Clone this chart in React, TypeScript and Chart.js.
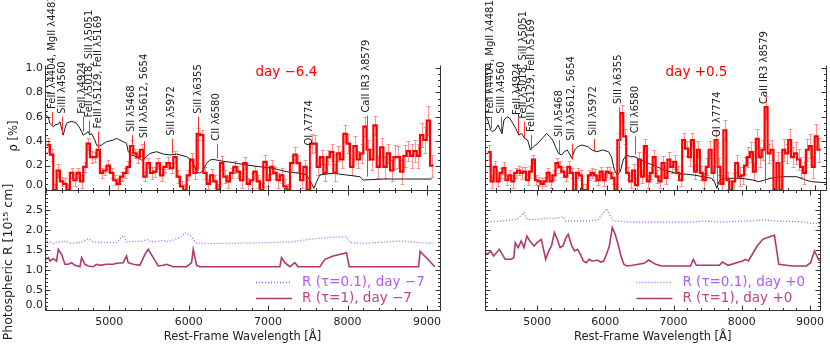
import React, { useEffect, useRef } from 'react';
import { Chart, registerables } from 'chart.js';

Chart.register(...registerables);

// ---------------- data ----------------
const xRangeL = [4190, 9165];
const xRangeR = [4235, 9155];
const polTicks = [0, 0.2, 0.4, 0.6, 0.8, 1.0];
const radTicks = [0, 0.5, 1.0, 1.5, 2.0, 2.5];
const waveTicks = [5000, 6000, 7000, 8000, 9000];

// binned polarization, day -6.4
const binStartL = 4231;
const binWidthL = 42;
const polL = [
  0.37, 0.29, 0.0, 0.16, 0.07, 0.05, 0.0, 0.14, 0.08, 0.14,
  0.07, 0.19, 0.38, 0.27, 0.27, 0.33, 0.14, 0.16, 0.2, 0.14,
  0.08, 0.05, 0.11, 0.14, 0.19, 0.36, 0.3, 0.27, 0.33, 0.11,
  0.22, 0.14, 0.15, 0.22, 0.12, 0.19, 0.22, 0.18, 0.27, 0.11,
  0.03, 0.0, 0.12, 0.25, 0.14, 0.46, 0.45, 0.14, 0.05, 0.12,
  0.07, 0.0, 0.22, 0.11, 0.07, 0.14, 0.19, 0.15, 0.08, 0.22,
  0.05, 0.08, 0.15, 0.07, 0.0, 0.23, 0.08, 0.19, 0.14, 0.08,
  0.12, 0.03, 0.0, 0.22, 0.29, 0.22, 0.08, 0.19, 0.0, 0.38,
  0.38, 0.19, 0.27, 0.14, 0.27, 0.31, 0.14, 0.3, 0.25, 0.46,
  0.38, 0.19, 0.36, 0.25, 0.3, 0.52, 0.33, 0.25, 0.53, 0.19,
  0.35, 0.19, 0.3, 0.16, 0.27, 0.27, 0.15, 0.28, 0.32, 0.28,
  0.32, 0.28, 0.45, 0.41, 0.57, 0.2,
];
const polErrL = [
  0.06, 0.05, 0.05, 0.05, 0.04, 0.05, 0.05, 0.04, 0.05, 0.04,
  0.05, 0.04, 0.05, 0.05, 0.04, 0.05, 0.04, 0.04, 0.05, 0.04,
  0.04, 0.05, 0.04, 0.04, 0.05, 0.05, 0.04, 0.05, 0.05, 0.04,
  0.04, 0.05, 0.04, 0.04, 0.05, 0.04, 0.05, 0.04, 0.05, 0.05,
  0.04, 0.05, 0.04, 0.05, 0.05, 0.05, 0.04, 0.05, 0.04, 0.05,
  0.05, 0.05, 0.06, 0.05, 0.05, 0.04, 0.05, 0.05, 0.06, 0.05,
  0.05, 0.06, 0.05, 0.05, 0.06, 0.06, 0.05, 0.06, 0.05, 0.06,
  0.06, 0.06, 0.05, 0.06, 0.06, 0.07, 0.06, 0.06, 0.07, 0.08,
  0.07, 0.07, 0.06, 0.07, 0.06, 0.07, 0.07, 0.06, 0.07, 0.07,
  0.08, 0.07, 0.08, 0.07, 0.08, 0.08, 0.08, 0.09, 0.08, 0.09,
  0.08, 0.09, 0.08, 0.09, 0.1, 0.09, 0.1, 0.09, 0.08, 0.1,
  0.09, 0.1, 0.1, 0.11, 0.12, 0.09,
];

// binned polarization, day +0.5
const binStartR = 4296;
const binWidthR = 42.5;
const polR = [
  0.31, 0.07, 0.19, 0.07, 0.14, 0.18, 0.08, 0.12, 0.07, 0.14,
  0.16, 0.14, 0.15, 0.08, 0.15, 0.25, 0.08, 0.07, 0.05, 0.07,
  0.14, 0.07, 0.12, 0.22, 0.19, 0.15, 0.11, 0.19, 0.14, 0.0,
  0.14, 0.12, 0.0, 0.0, 0.12, 0.14, 0.12, 0.08, 0.15, 0.08,
  0.15, 0.14, 0.1, 0.0, 0.41, 0.63, 0.44, 0.14, 0.07, 0.16,
  0.04, 0.25, 0.11, 0.36, 0.07, 0.14, 0.27, 0.11, 0.07, 0.22,
  0.1, 0.25, 0.19, 0.23, 0.14, 0.08, 0.41, 0.34, 0.27, 0.41,
  0.15, 0.33, 0.14, 0.08, 0.19, 0.33, 0.14, 0.41, 0.19, 0.05,
  0.49, 0.08, 0.0, 0.07, 0.22, 0.11, 0.12, 0.2, 0.27, 0.31,
  0.15, 0.42, 0.27, 0.33, 0.68, 0.3, 0.33, 0.0, 0.22, 0.0,
  0.33, 0.3, 0.41, 0.27, 0.3, 0.25, 0.19, 0.14, 0.33, 0.36,
  0.19, 0.44, 0.33,
];
const polErrR = [
  0.06, 0.05, 0.05, 0.04, 0.04, 0.05, 0.04, 0.04, 0.05, 0.04,
  0.04, 0.05, 0.04, 0.04, 0.05, 0.04, 0.04, 0.04, 0.05, 0.04,
  0.04, 0.05, 0.04, 0.04, 0.05, 0.04, 0.04, 0.05, 0.04, 0.05,
  0.04, 0.04, 0.05, 0.05, 0.04, 0.04, 0.05, 0.04, 0.04, 0.05,
  0.04, 0.05, 0.05, 0.05, 0.06, 0.07, 0.06, 0.05, 0.05, 0.05,
  0.05, 0.06, 0.05, 0.06, 0.05, 0.05, 0.06, 0.05, 0.05, 0.06,
  0.05, 0.06, 0.05, 0.06, 0.06, 0.05, 0.06, 0.06, 0.07, 0.06,
  0.06, 0.07, 0.06, 0.06, 0.07, 0.07, 0.06, 0.07, 0.07, 0.07,
  0.08, 0.07, 0.07, 0.07, 0.07, 0.08, 0.07, 0.07, 0.08, 0.08,
  0.07, 0.08, 0.08, 0.08, 0.09, 0.08, 0.08, 0.08, 0.09, 0.08,
  0.09, 0.08, 0.09, 0.08, 0.09, 0.09, 0.08, 0.09, 0.09, 0.1,
  0.09, 0.1, 0.1,
];

// scaled flux spectra (black)
const fluxWaveL = [
  4197, 4231, 4252, 4294, 4315, 4357, 4378, 4399, 4420, 4441,
  4462, 4504, 4546, 4588, 4630, 4651, 4672, 4705, 4734, 4755,
  4776, 4818, 4839, 4860, 4902, 4965, 5049, 5091, 5133, 5175,
  5217, 5238, 5280, 5343, 5406, 5427, 5469, 5511, 5595, 5679,
  5763, 5847, 5973, 6036, 6078, 6099, 6141, 6183, 6225, 6267,
  6309, 6393, 6561, 6729, 6896, 7064, 7232, 7400, 7484, 7547,
  7577, 7610, 7652, 7736, 7820, 7988, 8156, 8198, 8450, 8660,
  8911, 9060,
];
const fluxL = [
  0.615, 0.6, 0.546, 0.519, 0.533, 0.541, 0.56, 0.505, 0.45, 0.505,
  0.546, 0.56, 0.56, 0.546, 0.505, 0.478, 0.45, 0.464, 0.478, 0.45,
  0.464, 0.41, 0.369, 0.355, 0.369, 0.396, 0.41, 0.423, 0.41, 0.396,
  0.383, 0.314, 0.287, 0.273, 0.246, 0.246, 0.273, 0.3, 0.314, 0.295,
  0.287, 0.295, 0.273, 0.246, 0.191, 0.15, 0.137, 0.164, 0.219, 0.246,
  0.251, 0.24, 0.224, 0.205, 0.191, 0.178, 0.15, 0.137, 0.123, 0.055,
  0.014, 0.068, 0.123, 0.131, 0.137, 0.123, 0.109, 0.082, 0.09, 0.09,
  0.09, 0.09,
];
const fluxWaveR = [
  4233, 4276, 4318, 4339, 4382, 4424, 4467, 4480, 4509, 4552,
  4594, 4637, 4679, 4722, 4764, 4807, 4849, 4892, 4934, 4998,
  5083, 5125, 5168, 5210, 5253, 5295, 5337, 5380, 5422, 5465,
  5486, 5529, 5571, 5635, 5720, 5783, 5847, 5932, 6017, 6059,
  6102, 6144, 6187, 6229, 6272, 6336, 6399, 6484, 6654, 6824,
  6994, 7249, 7503, 7546, 7580, 7610, 7673, 7928, 8098, 8183,
  8268, 8353, 8523, 8735, 8862, 8948, 9155,
];
const fluxR = [
  0.615, 0.574, 0.49, 0.48, 0.492, 0.533, 0.478, 0.464, 0.574, 0.6,
  0.587, 0.546, 0.505, 0.45, 0.464, 0.423, 0.41, 0.328, 0.355, 0.383,
  0.437, 0.464, 0.437, 0.41, 0.355, 0.3, 0.287, 0.314, 0.328, 0.287,
  0.26, 0.328, 0.355, 0.369, 0.355, 0.328, 0.314, 0.328, 0.314, 0.273,
  0.164, 0.123, 0.15, 0.246, 0.287, 0.273, 0.273, 0.246, 0.205, 0.164,
  0.137, 0.123, 0.096, 0.068, 0.014, 0.068, 0.096, 0.096, 0.082, 0.068,
  0.082, 0.096, 0.109, 0.109, 0.082, 0.068, 0.06,
];

// photospheric radius, day -7
const radWave01L = [
  4197, 4210, 4294, 4462, 4504, 4630, 4734, 4797, 5091, 5175,
  5217, 5427, 5469, 5532, 5637, 5679, 5721, 5889, 5952, 6015,
  6099, 6561, 6980, 7274, 7526, 7736, 7988, 8030, 8240, 8660,
  8911, 9100,
];
const rad01L = [
  1.667, 1.725, 1.667, 1.725, 1.667, 1.683, 1.783, 1.7, 1.683, 1.867,
  1.7, 1.725, 1.767, 1.7, 1.725, 1.742, 1.7, 1.808, 1.933, 1.867,
  1.667, 1.667, 1.683, 1.7, 1.767, 1.808, 1.833, 1.683, 1.667, 1.725,
  1.683, 1.67,
];
const radWave1L = [
  4197, 4231, 4252, 4294, 4336, 4357, 4399, 4441, 4483, 4525,
  4567, 4630, 4651, 4693, 4734, 4797, 4839, 4881, 4965, 5049,
  5091, 5175, 5217, 5238, 5301, 5385, 5448, 5490, 5553, 5616,
  5679, 5721, 5805, 5973, 6036, 6057, 6099, 6141, 6561, 7148,
  7169, 7211, 7274, 7337, 7379, 7652, 7715, 7820, 7988, 8021,
  8660, 8895, 8915, 9100,
];
const rad1L = [
  1.267, 1.308, 1.225, 1.283, 1.225, 1.517, 1.392, 1.142, 1.142, 1.183,
  1.117, 1.083, 1.308, 1.142, 1.1, 1.083, 1.142, 1.117, 1.142, 1.142,
  1.167, 1.183, 1.35, 1.183, 1.142, 1.117, 1.392, 1.517, 1.308, 1.1,
  1.117, 1.142, 1.083, 1.083, 1.183, 1.517, 1.117, 1.083, 1.083, 1.083,
  1.308, 1.183, 1.083, 1.183, 1.083, 1.083, 1.267, 1.35, 1.433, 1.083,
  1.083, 1.083, 1.47, 1.083,
];

// photospheric radius, day +0
const radWave01R = [
  4233, 4276, 4488, 4700, 4807, 4849, 5040, 5168, 5253, 5380,
  5422, 5720, 5890, 5975, 6017, 6059, 6123, 6399, 6824, 7249,
  7461, 7673, 8098, 8310, 8523, 8948, 8990, 9155,
];
const rad01R = [
  2.2, 2.2, 2.225, 2.267, 2.433, 2.267, 2.267, 2.308, 2.283, 2.333,
  2.225, 2.225, 2.25, 2.433, 2.533, 2.392, 2.225, 2.2, 2.2, 2.2,
  2.225, 2.2, 2.225, 2.25, 2.225, 2.2, 2.167, 2.167,
];
const radWave1R = [
  4233, 4276, 4318, 4361, 4403, 4446, 4488, 4531, 4573, 4615,
  4658, 4679, 4722, 4764, 4807, 4849, 4892, 4955, 4998, 5061,
  5104, 5125, 5168, 5210, 5253, 5295, 5337, 5380, 5422, 5456,
  5507, 5550, 5592, 5635, 5677, 5720, 5762, 5805, 5890, 5932,
  5975, 6017, 6059, 6102, 6144, 6187, 6229, 6272, 6314, 6399,
  6569, 6633, 6739, 6824, 7249, 7291, 7334, 7673, 7716, 7801,
  7928, 8013, 8055, 8098, 8141, 8226, 8310, 8438, 8480, 8544,
  8735, 8948, 9011, 9066, 9139,
];
const rad1R = [
  1.433, 1.392, 1.475, 1.35, 1.433, 1.517, 1.392, 1.267, 1.267, 1.267,
  1.308, 1.683, 1.558, 1.725, 1.558, 1.85, 1.725, 1.6, 1.683, 1.767,
  1.433, 1.267, 1.475, 1.6, 1.933, 1.767, 1.558, 1.6, 1.808, 1.892,
  1.6, 1.475, 1.517, 1.392, 1.225, 1.183, 1.267, 1.225, 1.242, 1.2,
  1.225, 1.392, 1.6, 2.058, 1.892, 1.642, 1.35, 1.142, 1.1, 1.117,
  1.167, 1.25, 1.142, 1.1, 1.1, 1.267, 1.117, 1.117, 1.2, 1.117,
  1.183, 1.225, 1.267, 1.225, 1.35, 1.6, 1.767, 1.85, 1.867, 1.142,
  1.1, 1.1, 1.183, 1.475, 1.225,
];

// line identifications
const lineLabels = [
  'FeII λ4404, MgII λ4481', 'SiIII λ4560', 'FeII λ4924', 'FeII λ5018, SiII λ5051',
  'FeIII λ5129, FeII λ5169', 'SII λ5468', 'SII λλ5612, 5654', 'SiII λ5972',
  'SiII λ6355', 'CII λ6580', 'OI λ7774', 'CaII IR3 λ8579',
];
const lineWaveL = [4281, 4407, 4664, 4747, 4860, 5281, 5441, 5785, 6120, 6351, 7526, 8240];
const lineLoL = [0.53, 0.45, 0.48, 0.46, 0.34, 0.34, 0.26, 0.3, 0.16, 0.26, 0.07, 0.11];
const lineHiL = [0.64, 0.6, 0.6, 0.57, 0.48, 0.45, 0.4, 0.42, 0.6, 0.38, 0.34, 0.61];
const lineWaveR = [4318, 4466, 4708, 4794, 4899, 5303, 5485, 5804, 6166, 6399, 7588, 8268];
const lineLoR = [0.505, 0.48, 0.46, 0.42, 0.33, 0.29, 0.25, 0.31, 0.14, 0.29, 0.04, 0.055];
const lineHiR = [0.6, 0.6, 0.59, 0.56, 0.45, 0.41, 0.38, 0.42, 0.68, 0.44, 0.41, 0.68];

const epochL = 'day −6.4';
const epochR = 'day +0.5';
const legendDayL = 'day −7';
const legendDayR = 'day +0';

// ---------------- styling ----------------
const FONT = '"DejaVu Sans", sans-serif';
const TEXT = '#222222';
const AXIS = '#333333';
const RED = '#ff0000';
const ERR = 'rgba(255,110,110,0.75)';
const VIOLET = '#b05cf5';
const MAROON = '#b0386a';
const W = 830;
const H = 346;

type Side = 'L' | 'R';

function framePlugin(o: { yMajor: number; yMinor: number; topLine: boolean; zeroLabel: boolean }) {
  return {
    id: 'frame',
    afterDatasetsDraw(chart: any) {
      const { ctx, chartArea: a } = chart;
      const xs = chart.scales.x;
      const ys = chart.scales.y;
      const L = Math.round(a.left) + 0.5;
      const R = Math.round(a.right) + 0.5;
      const T = Math.round(a.top) + 0.5;
      const B = Math.round(a.bottom) + 0.5;
      ctx.save();
      ctx.strokeStyle = AXIS;
      ctx.lineWidth = 1;
      ctx.beginPath();
      ctx.moveTo(L, T); ctx.lineTo(L, B);
      ctx.moveTo(R, T); ctx.lineTo(R, B);
      ctx.moveTo(L, B); ctx.lineTo(R, B);
      if (o.topLine) { ctx.moveTo(L, T); ctx.lineTo(R, T); }
      const x0 = Math.ceil(xs.min / 200);
      const x1 = Math.floor(xs.max / 200);
      for (let i = x0; i <= x1; i++) {
        const v = i * 200;
        const px = Math.round(xs.getPixelForValue(v)) + 0.5;
        const len = v % 1000 === 0 ? 5 : 2.5;
        ctx.moveTo(px, B); ctx.lineTo(px, B - len);
        if (o.topLine) { ctx.moveTo(px, T); ctx.lineTo(px, T + len); }
      }
      const n = Math.floor(ys.max / o.yMinor + 1e-6);
      const per = Math.round(o.yMajor / o.yMinor);
      for (let i = 0; i <= n; i++) {
        const py = Math.round(ys.getPixelForValue(i * o.yMinor)) + 0.5;
        const len = i % per === 0 ? 5 : 2.5;
        ctx.moveTo(L, py); ctx.lineTo(L + len, py);
        ctx.moveTo(R, py); ctx.lineTo(R - len, py);
      }
      ctx.stroke();
      if (o.zeroLabel) {
        // IDL-style bottom label, nudged up off the x axis
        ctx.fillStyle = TEXT;
        ctx.font = `11px ${FONT}`;
        ctx.textAlign = 'right';
        ctx.textBaseline = 'middle';
        ctx.fillText('0.0', a.left - 2, ys.getPixelForValue(0) - 5);
      }
      ctx.restore();
    },
  };
}

function errPlugin(vals: number[], errs: number[], start: number, width: number) {
  return {
    id: 'errbars',
    beforeDatasetsDraw(chart: any) {
      const { ctx, chartArea: a } = chart;
      const xs = chart.scales.x;
      const ys = chart.scales.y;
      ctx.save();
      ctx.beginPath();
      ctx.rect(a.left, a.top, a.right - a.left, a.bottom - a.top);
      ctx.clip();
      ctx.strokeStyle = ERR;
      ctx.lineWidth = 1;
      ctx.beginPath();
      vals.forEach((v, i) => {
        const px = Math.round(xs.getPixelForValue(start + i * width)) + 0.5;
        const y1 = Math.round(ys.getPixelForValue(v - errs[i])) + 0.5;
        const y2 = Math.round(ys.getPixelForValue(v + errs[i])) + 0.5;
        ctx.moveTo(px, y1); ctx.lineTo(px, y2);
        ctx.moveTo(px - 2, y1); ctx.lineTo(px + 2, y1);
        ctx.moveTo(px - 2, y2); ctx.lineTo(px + 2, y2);
      });
      ctx.stroke();
      ctx.restore();
    },
  };
}

function annoTopPlugin(side: Side) {
  const waves = side === 'L' ? lineWaveL : lineWaveR;
  const lo = side === 'L' ? lineLoL : lineLoR;
  const hi = side === 'L' ? lineHiL : lineHiR;
  const epoch = side === 'L' ? epochL : epochR;
  return {
    id: 'annoTop',
    afterDatasetsDraw(chart: any) {
      const { ctx } = chart;
      const xs = chart.scales.x;
      const ys = chart.scales.y;
      ctx.save();
      ctx.strokeStyle = '#ff3030';
      ctx.lineWidth = 1;
      ctx.beginPath();
      waves.forEach((w, i) => {
        const px = Math.round(xs.getPixelForValue(w)) + 0.5;
        ctx.moveTo(px, ys.getPixelForValue(lo[i]));
        ctx.lineTo(px, ys.getPixelForValue(hi[i]));
      });
      ctx.stroke();
      ctx.fillStyle = TEXT;
      ctx.font = `10px ${FONT}`;
      ctx.textAlign = 'left';
      ctx.textBaseline = 'middle';
      waves.forEach((w, i) => {
        const px = xs.getPixelForValue(w);
        const py = ys.getPixelForValue(hi[i]) - 3;
        ctx.save();
        ctx.translate(px, py);
        ctx.rotate(-Math.PI / 2);
        ctx.fillText(lineLabels[i], 0, 0);
        ctx.restore();
      });
      ctx.fillStyle = RED;
      ctx.font = `13.5px ${FONT}`;
      ctx.fillText(epoch, xs.getPixelForValue(6840), ys.getPixelForValue(0.96));
      if (side === 'L') {
        ctx.fillStyle = TEXT;
        ctx.font = `11.5px ${FONT}`;
        ctx.textAlign = 'center';
        ctx.save();
        ctx.translate(14, 136);
        ctx.rotate(-Math.PI / 2);
        ctx.fillText('ρ [%]', 0, 0);
        ctx.restore();
      }
      ctx.restore();
    },
  };
}

function annoBotPlugin(side: Side) {
  const day = side === 'L' ? legendDayL : legendDayR;
  return {
    id: 'annoBot',
    afterDatasetsDraw(chart: any) {
      const { ctx, chartArea: a } = chart;
      ctx.save();
      const r = a.right;
      const y1 = a.bottom - 28;
      const y2 = a.bottom - 12;
      ctx.lineWidth = 1.3;
      ctx.strokeStyle = VIOLET;
      ctx.setLineDash([1, 2]);
      ctx.beginPath();
      ctx.moveTo(r - 184, y1 + 0.5); ctx.lineTo(r - 148, y1 + 0.5);
      ctx.stroke();
      ctx.setLineDash([]);
      ctx.strokeStyle = MAROON;
      ctx.lineWidth = 1.6;
      ctx.beginPath();
      ctx.moveTo(r - 184, y2 + 0.5); ctx.lineTo(r - 148, y2 + 0.5);
      ctx.stroke();
      ctx.font = `13.5px ${FONT}`;
      ctx.textAlign = 'left';
      ctx.textBaseline = 'middle';
      ctx.fillStyle = VIOLET;
      ctx.fillText(`R (τ=0.1), ${day}`, r - 138, y1);
      ctx.fillStyle = '#c0457a';
      ctx.fillText(`R (τ=1), ${day}`, r - 138, y2);
      if (side === 'L') {
        ctx.fillStyle = TEXT;
        ctx.font = `12.5px ${FONT}`;
        ctx.textAlign = 'center';
        ctx.translate(9, 262);
        ctx.rotate(-Math.PI / 2);
        ctx.fillText('Photospheric R [10¹⁵ cm]', 0, 0);
      }
      ctx.restore();
    },
  };
}

function yScale(side: Side, max: number, ticks: number[]) {
  return {
    type: 'linear',
    position: 'left',
    min: 0,
    max,
    display: side === 'L',
    grid: { display: false, drawTicks: false },
    border: { display: false },
    ticks: {
      autoSkip: false,
      padding: 2,
      color: TEXT,
      font: { family: FONT, size: 11 },
      callback: (v: any) => (Number(v) === 0 ? '' : Number(v).toFixed(1)),
    },
    afterBuildTicks: (s: any) => { s.ticks = ticks.map((v) => ({ value: v })); },
    afterFit: (s: any) => { s.width = 45; },
  };
}

function padding(side: Side, top: number, bottom: number) {
  return side === 'L'
    ? { left: 0, right: W - 440, top, bottom }
    : { left: 440, right: W - 826, top, bottom };
}

function buildTop(side: Side): any {
  const isL = side === 'L';
  const pol = isL ? polL : polR;
  const err = isL ? polErrL : polErrR;
  const start = isL ? binStartL : binStartR;
  const bw = isL ? binWidthL : binWidthR;
  const fw = isL ? fluxWaveL : fluxWaveR;
  const fv = isL ? fluxL : fluxR;
  const range = isL ? xRangeL : xRangeR;
  const step = [
    { x: start - bw / 2, y: pol[0] },
    ...pol.map((v, i) => ({ x: start + i * bw, y: v })),
    { x: start + (pol.length - 1) * bw + bw / 2, y: pol[pol.length - 1] },
  ];
  return {
    type: 'line',
    data: {
      datasets: [
        { data: step, stepped: 'middle', borderColor: RED, borderWidth: 2.2, pointRadius: 0, order: 1 },
        { data: fw.map((x, i) => ({ x, y: fv[i] })), borderColor: '#1a1a1a', borderWidth: 1, pointRadius: 0, tension: 0, order: 2 },
      ],
    },
    options: {
      responsive: false,
      animation: false,
      events: [],
      layout: { padding: padding(side, 65, H - 190) },
      plugins: { legend: { display: false }, tooltip: { enabled: false } },
      scales: {
        x: { type: 'linear', min: range[0], max: range[1], display: false },
        y: yScale(side, 1.025, polTicks),
      },
    },
    plugins: [
      errPlugin(pol, err, start, bw),
      framePlugin({ yMajor: 0.2, yMinor: 0.05, topLine: false, zeroLabel: isL }),
      annoTopPlugin(side),
    ],
  };
}

function buildBottom(side: Side): any {
  const isL = side === 'L';
  const range = isL ? xRangeL : xRangeR;
  const w01 = isL ? radWave01L : radWave01R;
  const v01 = isL ? rad01L : rad01R;
  const w1 = isL ? radWave1L : radWave1R;
  const v1 = isL ? rad1L : rad1R;
  return {
    type: 'line',
    data: {
      datasets: [
        { data: w01.map((x, i) => ({ x, y: v01[i] })), borderColor: VIOLET, borderWidth: 1.3, borderDash: [1, 2], pointRadius: 0 },
        { data: w1.map((x, i) => ({ x, y: v1[i] })), borderColor: MAROON, borderWidth: 1.6, pointRadius: 0 },
      ],
    },
    options: {
      responsive: false,
      animation: false,
      events: [],
      layout: { padding: padding(side, 190, 0) },
      plugins: { legend: { display: false }, tooltip: { enabled: false } },
      scales: {
        x: {
          type: 'linear',
          min: range[0],
          max: range[1],
          position: 'bottom',
          grid: { display: false, drawTicks: false },
          border: { display: false },
          ticks: {
            autoSkip: false,
            maxRotation: 0,
            padding: 6,
            color: TEXT,
            font: { family: FONT, size: 11 },
            callback: (v: any) => String(v),
          },
          title: {
            display: true,
            text: 'Rest-Frame Wavelength [Å]',
            color: TEXT,
            font: { family: FONT, size: 11.5 },
            padding: { top: 0, bottom: 2 },
          },
          afterBuildTicks: (s: any) => { s.ticks = waveTicks.map((v) => ({ value: v })); },
          afterFit: (s: any) => { s.height = 36; },
        },
        y: yScale(side, 3.0, radTicks),
      },
    },
    plugins: [
      framePlugin({ yMajor: 0.5, yMinor: 0.1, topLine: true, zeroLabel: isL }),
      annoBotPlugin(side),
    ],
  };
}

export default function App() {
  const r1 = useRef<HTMLCanvasElement>(null);
  const r2 = useRef<HTMLCanvasElement>(null);
  const r3 = useRef<HTMLCanvasElement>(null);
  const r4 = useRef<HTMLCanvasElement>(null);

  useEffect(() => {
    document.body.style.margin = '0';
    const charts = [
      new Chart(r1.current as HTMLCanvasElement, buildTop('L')),
      new Chart(r2.current as HTMLCanvasElement, buildTop('R')),
      new Chart(r3.current as HTMLCanvasElement, buildBottom('L')),
      new Chart(r4.current as HTMLCanvasElement, buildBottom('R')),
    ];
    return () => charts.forEach((c) => c.destroy());
  }, []);

  const cs: React.CSSProperties = { position: 'absolute', left: 0, top: 0, width: W, height: H };
  return (
    <div style={{ position: 'relative', width: W, height: H, background: '#ffffff' }}>
      <canvas ref={r1} width={W} height={H} style={cs} />
      <canvas ref={r2} width={W} height={H} style={cs} />
      <canvas ref={r3} width={W} height={H} style={cs} />
      <canvas ref={r4} width={W} height={H} style={cs} />
    </div>
  );
}
